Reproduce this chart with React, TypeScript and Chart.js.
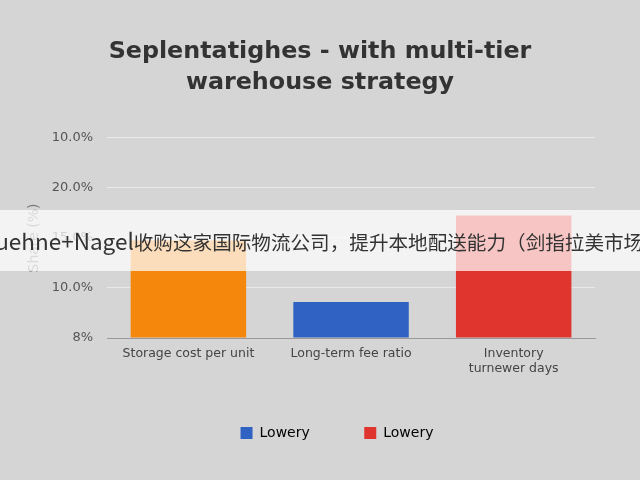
import { useEffect, useRef } from "react";
import { Chart, registerables } from "chart.js";

Chart.register(...registerables);

const TITLE = ["Seplentatighes - with multi-tier", "warehouse strategy"];
const CATEGORIES = [["Storage cost per unit"], ["Long-term fee ratio"], ["Inventory", "turnewer days"]];
const VALUES = [1.95, 0.72, 2.45];
const BAR_COLORS = ["#f5870c", "#2f62c2", "#e0352e"];
const TICK_LABELS = ["8%", "10.0%", "15.0%", "20.0%", "10.0%"];
const LEGEND_LABELS = ["Lowery", "Lowery"];
const LEGEND_COLORS = ["#2f62c2", "#e0352e"];
const Y_TITLE = "Share (%)";
const BANNER_LATIN = "Kuehne+Nagel";
const BANNER_CJK = "收购这家国际物流公司，提升本地配送能力（剑指拉美市场）";

const FONT = "'DejaVu Sans', Arial, sans-serif";

// the title is centred on the whole canvas, the legend a little right of the plot centre
const placeBoxes = {
  id: "placeBoxes",
  afterLayout(chart: any) {
    const t = chart.titleBlock;
    if (t) {
      t.left = 0;
      t.right = chart.width;
      t.width = chart.width;
    }
    const l = chart.legend;
    if (l) {
      const d = 337 - (l.left + l.right) / 2;
      l.left += d;
      l.right += d;
    }
  },
};

export default function App() {
  const canvasRef = useRef<HTMLCanvasElement>(null);

  useEffect(() => {
    document.body.style.margin = "0";
    if (!canvasRef.current) return;
    const ctx = canvasRef.current.getContext("2d");
    if (!ctx) return;
    const chart = new Chart(ctx, {
      type: "bar",
      data: {
        labels: CATEGORIES,
        datasets: [
          {
            data: VALUES,
            backgroundColor: BAR_COLORS,
            borderWidth: 0,
            barPercentage: 0.71,
            categoryPercentage: 1,
          },
        ],
      },
      plugins: [placeBoxes],
      options: {
        animation: false,
        responsive: false,
        maintainAspectRatio: false,
        layout: { padding: { left: 26, right: 45, top: 0, bottom: 30 } },
        font: { family: FONT },
        plugins: {
          title: {
            display: true,
            text: TITLE,
            color: "#333",
            font: { family: FONT, size: 23.8, weight: "bold", lineHeight: 1.28 },
            padding: { top: 37, bottom: 40 },
          },
          legend: {
            position: "bottom",
            labels: {
              boxWidth: 12,
              boxHeight: 12,
              padding: 10,
              color: "#444",
              font: { family: FONT, size: 14 },
              generateLabels: () =>
                LEGEND_LABELS.map((t, i) => ({
                  text: i === 0 ? t + "          " : t,
                  fillStyle: LEGEND_COLORS[i],
                  strokeStyle: LEGEND_COLORS[i],
                  lineWidth: 0,
                  hidden: false,
                  datasetIndex: 0,
                })),
            },
          },
          tooltip: { enabled: false },
        },
        scales: {
          x: {
            grid: { display: false },
            border: { display: true, color: "#999", width: 1 },
            ticks: { color: "#444", font: { family: FONT, size: 12.5 }, padding: 0 },
            afterFit: (scale: any) => {
              scale.height += 40;
              scale.paddingLeft = 0;
              scale.paddingRight = 0;
            },
          },
          y: {
            min: 0,
            max: 4,
            border: { display: false },
            grid: { color: "#e9e9e9", drawTicks: false, lineWidth: 1 },
            ticks: {
              stepSize: 1,
              padding: 14,
              color: "#555",
              font: { family: FONT, size: 13 },
              callback: (v) => TICK_LABELS[Number(v)] ?? "",
            },
            title: {
              display: true,
              text: Y_TITLE,
              color: "#777",
              font: { family: FONT, size: 14 },
              padding: { top: 0, bottom: 8 },
            },
            afterFit: (scale: any) => {
              scale.width -= 13;
            },
          },
        },
      },
    });
    return () => chart.destroy();
  }, []);

  return (
    <div style={{ position: "fixed", left: 0, top: 0, width: 640, height: 480, background: "#d5d5d6", overflow: "hidden" }}>
      <canvas ref={canvasRef} width={640} height={480} style={{ width: 640, height: 480 }} />
      <div
        style={{
          position: "absolute",
          left: 0,
          top: 210,
          width: 640,
          height: 61,
          background: "rgba(255,255,255,0.72)",
          overflow: "hidden",
        }}
      >
        <span
          style={{
            position: "absolute",
            left: -19,
            top: 0,
            lineHeight: "61px",
            whiteSpace: "nowrap",
            fontFamily: "'Noto Sans CJK SC', 'Noto Sans', sans-serif",
            color: "#333",
          }}
        >
          <span style={{ fontSize: 22.5 }}>{BANNER_LATIN}</span>
          <span style={{ fontSize: 19.6 }}>{BANNER_CJK}</span>
        </span>
      </div>
    </div>
  );
}
